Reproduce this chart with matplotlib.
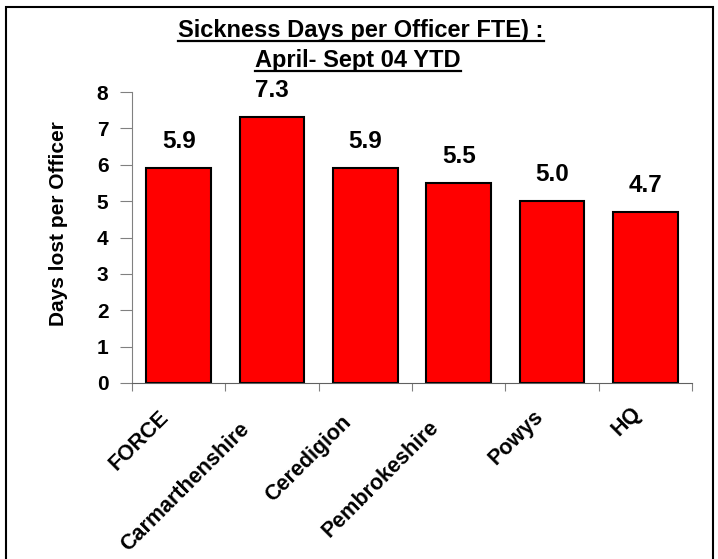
import matplotlib.pyplot as plt
from matplotlib.patches import Rectangle
from matplotlib.transforms import ScaledTranslation

plt.rcParams['font.family'] = ['Liberation Sans', 'DejaVu Sans']
plt.rcParams['font.weight'] = 'bold'

areas = ['FORCE', 'Carmarthenshire', 'Ceredigion', 'Pembrokeshire', 'Powys', 'HQ']
days_lost = [5.9, 7.3, 5.9, 5.5, 5.0, 4.7]
yticks = [0, 1, 2, 3, 4, 5, 6, 7, 8]
title_lines = ['Sickness Days per Officer FTE) :', 'April- Sept 04 YTD']

fig = plt.figure(figsize=(7.18, 5.59), dpi=100)
W, H = 718, 559
ax = fig.add_axes([132 / W, 1 - 383 / H, (692 - 132) / W, (383 - 92) / H])

x = list(range(len(areas)))
bars = ax.bar(x, days_lost, width=0.69, color='#ff0000', edgecolor='black', linewidth=1.5)

for xi, v in zip(x, days_lost):
    ax.annotate('%.1f' % v, (xi, v), xytext=(0, 11), textcoords='offset points',
                ha='center', va='bottom', fontsize=17.5, fontweight='bold')

ax.set_xlim(-0.5, len(areas) - 0.5)
ax.set_ylim(0, 8)
ax.set_yticks(yticks)
ax.set_yticklabels([str(t) for t in yticks], fontsize=15, fontweight='bold')

# category ticks sit between bars
ax.set_xticks([i - 0.5 for i in range(len(areas) + 1)])
ax.set_xticklabels([])
ax.set_xticks(x, minor=True)
ax.set_xticklabels(areas, minor=True, rotation=45, ha='right', va='top',
                   rotation_mode='anchor', fontsize=15.5, fontweight='bold')
ax.tick_params(axis='x', which='minor', length=0, pad=12)
ax.tick_params(axis='x', which='major', length=6, color='#808080', direction='out')
ax.tick_params(axis='y', length=9, color='#808080', direction='out', pad=8)

for side in ['top', 'right']:
    ax.spines[side].set_visible(False)
ax.spines['left'].set_color('#808080')
ax.spines['bottom'].set_color('#606060')

fig.text(58 / W, 1 - 224 / H, 'Days lost per Officer', rotation=90, ha='center', va='center',
         fontsize=15, fontweight='bold')

titles = []
for line, base, cx in zip(title_lines, [37, 67], [361, 358]):
    titles.append((fig.text(cx / W, 1 - base / H, line, ha='center', va='baseline',
                            fontsize=17, fontweight='bold'), base))

fig.canvas.draw()
r = fig.canvas.get_renderer()

# longer category labels sit further down-left, as in the original
for lab in ax.get_xticklabels(minor=True):
    w = lab.get_window_extent(r).width
    shift = ScaledTranslation(-(8 + 0.18 * w) / 100, -(0.17 * w - 4) / 100, fig.dpi_scale_trans)
    lab.set_transform(lab.get_transform() + shift)

# underlines under the two title lines
for t, base in titles:
    bb = t.get_window_extent(r)
    yl = 1 - (base + 4) / H
    fig.add_artist(plt.Line2D([bb.x0 / W, bb.x1 / W], [yl, yl],
                              transform=fig.transFigure, color='black', linewidth=1.6))

fig.add_artist(Rectangle((6 / W, -0.01), (713 - 6) / W, 1 - 7 / H + 0.01,
                         transform=fig.transFigure, fill=False, edgecolor='black', linewidth=1.5))

fig.savefig('out.png', dpi=100)
